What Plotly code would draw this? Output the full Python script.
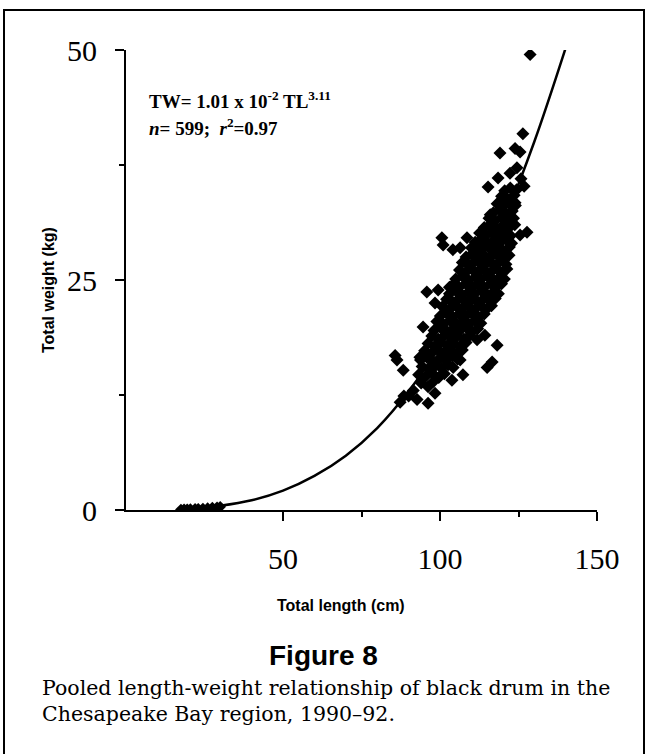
import plotly.graph_objects as go

# ---- data ----
# fitted curve
tl_curve = [20, 30, 40, 50, 60, 70, 80, 90, 100, 110, 120, 130, 140]
tw_curve = [0.1, 0.45, 1.05, 2.1, 3.7, 5.9, 8.9, 12.9, 17.9, 24.0, 31.2, 40.0, 50.2]

# small fish near the origin
tl_small = [17.5, 18.5, 19.5, 20.5, 22.0, 23.0, 24.5, 26.0, 27.5, 29.0, 30.0]
tw_small = [0.05, 0.07, 0.08, 0.10, 0.12, 0.13, 0.16, 0.20, 0.25, 0.30, 0.35]

# dense core of the cloud
tl_core = [
    94.0, 96.2, 98.0,
    93.2, 95.4, 97.5, 99.6, 101.4,
    94.3, 96.4, 98.6, 100.5, 102.6, 104.2,
    93.8, 95.8, 97.7, 99.9, 101.8, 103.9, 105.6,
    95.1, 97.2, 99.3, 101.2, 103.3, 105.2, 107.1,
    96.2, 98.3, 100.4, 102.4, 104.5, 106.4, 108.3,
    97.4, 99.4, 101.5, 103.6, 105.5, 107.6, 109.5,
    98.1, 100.2, 102.3, 104.2, 106.3, 108.4, 110.3, 112.0,
    99.0, 101.1, 103.2, 105.1, 107.2, 109.2, 111.1, 113.0,
    100.1, 102.0, 104.1, 106.2, 108.1, 110.0, 112.2, 114.1,
    100.8, 102.9, 105.0, 107.0, 109.1, 111.0, 113.1, 115.0, 116.4,
    102.1, 104.0, 106.1, 108.0, 110.2, 112.1, 114.0, 116.1, 117.6,
    103.0, 105.1, 107.0, 109.1, 111.0, 113.2, 115.1, 117.0, 118.6,
    104.2, 106.1, 108.2, 110.1, 112.0, 114.1, 116.2, 118.0, 119.6,
    105.0, 107.1, 109.0, 111.2, 113.1, 115.0, 117.1, 119.0, 120.5,
    106.2, 108.0, 110.1, 112.0, 114.2, 116.0, 118.1, 120.0, 121.3,
    107.1, 109.2, 111.0, 113.1, 115.0, 117.2, 119.0, 121.0,
    108.3, 110.1, 112.2, 114.0, 116.1, 118.0, 120.1, 122.0,
    110.0, 112.1, 114.0, 116.2, 118.1, 120.0, 122.1,
    111.2, 113.0, 115.1, 117.0, 119.2, 121.0, 122.8,
    112.6, 114.5, 116.4, 118.6, 120.4, 122.5,
    114.1, 116.0, 118.1, 120.0, 122.1, 123.8,
    115.6, 117.5, 119.6, 121.5, 123.4,
    117.0, 119.1, 121.0, 123.0,
    118.2, 120.1, 122.2, 124.0,
    119.6, 121.5, 123.6,
    120.6, 122.4, 124.4,
]
tw_core = [
    13.8, 13.4, 14.0,
    14.7, 14.5, 14.9, 14.4, 14.8,
    15.6, 15.3, 15.7, 15.4, 15.8, 15.5,
    16.3, 16.6, 16.2, 16.5, 16.3, 16.7, 16.4,
    17.3, 17.0, 17.4, 17.1, 17.3, 17.0, 17.4,
    18.1, 17.8, 18.2, 17.9, 18.1, 17.8, 18.2,
    18.9, 18.6, 19.0, 18.7, 18.9, 18.6, 19.0,
    19.5, 19.8, 19.4, 19.7, 19.5, 19.8, 19.4, 19.7,
    20.5, 20.2, 20.6, 20.3, 20.5, 20.2, 20.6, 20.3,
    21.1, 21.4, 21.0, 21.3, 21.1, 21.4, 21.0, 21.3,
    22.1, 21.8, 22.2, 21.9, 22.1, 21.8, 22.2, 21.9, 22.2,
    22.9, 22.6, 23.0, 22.7, 22.9, 22.6, 23.0, 22.7, 23.0,
    23.5, 23.8, 23.4, 23.7, 23.5, 23.8, 23.4, 23.7, 23.5,
    24.5, 24.2, 24.6, 24.3, 24.5, 24.2, 24.6, 24.3, 24.6,
    25.1, 25.4, 25.0, 25.3, 25.1, 25.4, 25.0, 25.3, 25.1,
    26.1, 25.8, 26.2, 25.9, 26.1, 25.8, 26.2, 25.9, 26.2,
    26.9, 26.6, 27.0, 26.7, 26.9, 26.6, 27.0, 26.7,
    27.5, 27.8, 27.4, 27.7, 27.5, 27.8, 27.4, 27.7,
    28.5, 28.2, 28.6, 28.3, 28.5, 28.2, 28.6,
    29.1, 29.4, 29.0, 29.3, 29.1, 29.4, 29.0,
    30.1, 29.8, 30.2, 29.9, 30.1, 29.8,
    30.7, 31.0, 30.6, 30.9, 30.7, 31.0,
    31.7, 31.4, 31.8, 31.5, 31.7,
    32.3, 32.6, 32.2, 32.5,
    33.3, 33.0, 33.4, 33.1,
    34.1, 33.8, 34.2,
    34.7, 35.0, 34.8,
]

# scattered points around the core
tl_out = [95.8, 99.4, 103.0, 98.4, 94.6, 85.7, 86.3, 88.3, 93.6, 92.7, 96.2,
          98.4, 87.3, 88.5, 103.8, 107.3, 115.0, 116.6, 118.2, 111.8, 114.3,
          106.4, 90.0, 91.5, 115.3, 118.5, 122.3, 124.5, 116.0, 123.9, 100.6,
          101.0, 104.1, 106.4, 108.6, 112.0, 127.7, 125.5, 116.6, 125.8,
          126.8, 128.7, 126.4, 123.9, 125.5, 119.1]
tw_out = [23.7, 23.9, 24.2, 22.5, 19.9, 16.8, 16.3, 15.2, 16.6, 12.0, 11.6,
          12.7, 11.7, 12.4, 14.1, 14.7, 15.5, 16.1, 17.9, 18.5, 19.0,
          16.3, 12.4, 13.0, 35.1, 36.1, 36.6, 37.2, 32.1, 33.4, 29.6,
          28.8, 28.3, 28.5, 29.6, 29.0, 30.2, 29.9, 31.2, 36.0,
          35.2, 49.5, 40.9, 39.3, 38.9, 38.8]

x_ticks = [50, 100, 150]
x_minor = [75, 125]
y_ticks = [0, 25, 50]
y_minor = [12.5, 37.5]

serif = "Liberation Serif, Times New Roman, serif"
sans = "Liberation Sans, Arial, sans-serif"

marker = dict(symbol="diamond", size=10, color="black", line=dict(width=0))

fig = go.Figure()
fig.add_trace(go.Scatter(x=tl_small, y=tw_small, mode="markers",
                         marker=dict(marker, size=9), hoverinfo="skip"))
fig.add_trace(go.Scatter(x=tl_core, y=tw_core, mode="markers", marker=marker,
                         hoverinfo="skip"))
fig.add_trace(go.Scatter(x=tl_out, y=tw_out, mode="markers", marker=marker,
                         hoverinfo="skip"))
fig.add_trace(go.Scatter(x=tl_curve, y=tw_curve, mode="lines",
                         line=dict(color="black", width=2.5, shape="spline"),
                         hoverinfo="skip"))

fig.update_layout(
    width=647, height=754,
    margin=dict(l=126, r=50, t=50, b=244),
    paper_bgcolor="white", plot_bgcolor="white",
    showlegend=False,
    xaxis=dict(range=[0, 150], showline=True, linecolor="black", linewidth=2,
               showgrid=False, zeroline=False, ticks="outside", ticklen=9,
               tickwidth=2, tickcolor="black", tickvals=x_ticks,
               tickfont=dict(family=serif, size=30, color="black"),
               ticklabelstandoff=12,
               minor=dict(tickvals=x_minor, ticks="outside", ticklen=5,
                          tickwidth=1.5, tickcolor="black")),
    yaxis=dict(range=[0, 50], showline=True, linecolor="black", linewidth=2,
               showgrid=False, zeroline=False, ticks="outside", ticklen=9,
               tickwidth=2, tickcolor="black", tickvals=y_ticks,
               tickfont=dict(family=serif, size=30, color="black"),
               ticklabelstandoff=12,
               minor=dict(tickvals=y_minor, ticks="outside", ticklen=5,
                          tickwidth=1.5, tickcolor="black")),
)

def px_x(px):
    return (px - 126) / 471.0

def px_y(py):
    return (510 - py) / 460.0

ann = [
    dict(text="<b>TW= 1.01 x 10<sup>-2</sup> TL<sup>3.11</sup></b>",
         x=px_x(147), y=px_y(100), xanchor="left", yanchor="middle",
         font=dict(family=serif, size=19, color="black")),
    dict(text="<b><i>n</i>= 599;  <i>r</i><sup>2</sup>=0.97</b>",
         x=px_x(147), y=px_y(127), xanchor="left", yanchor="middle",
         font=dict(family=serif, size=19, color="black")),
    dict(text="<b>Total weight (kg)</b>", textangle=-90,
         x=px_x(48), y=px_y(290), xanchor="center", yanchor="middle",
         font=dict(family=sans, size=16, color="black")),
    dict(text="<b>Total length (cm)</b>",
         x=px_x(341), y=px_y(605), xanchor="center", yanchor="middle",
         font=dict(family=sans, size=16, color="black")),
    dict(text="<b>Figure 8</b>",
         x=px_x(323), y=px_y(655), xanchor="center", yanchor="middle",
         font=dict(family=sans, size=28, color="black")),
    dict(text="Pooled length-weight relationship of black drum in the",
         x=px_x(40), y=px_y(688), xanchor="left", yanchor="middle",
         font=dict(family="DejaVu Serif, serif", size=20.5, color="black")),
    dict(text="Chesapeake Bay region, 1990\u201392.",
         x=px_x(40), y=px_y(714), xanchor="left", yanchor="middle",
         font=dict(family="DejaVu Serif, serif", size=20.5, color="black")),
]
for a in ann:
    a.update(xref="paper", yref="paper", showarrow=False)
fig.update_layout(annotations=ann)

fig.add_shape(type="rect", xref="paper", yref="paper",
              x0=px_x(4), x1=px_x(644), y0=px_y(10), y1=px_y(780),
              line=dict(color="black", width=2), fillcolor="rgba(0,0,0,0)",
              layer="above")

fig.write_html("out.html",
               config={"displayModeBar": False},
               post_script="document.body.style.margin='0';"
                           "document.body.style.overflow='hidden';")
